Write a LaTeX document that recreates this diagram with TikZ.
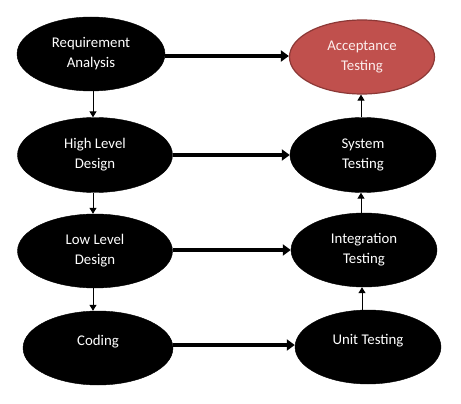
\documentclass[tikz,border=0pt]{standalone}
\usepackage{fontspec}
\setmainfont{Carlito}
\usetikzlibrary{shapes.geometric,arrows.meta}
\definecolor{accred}{HTML}{C0504D}
\definecolor{accborder}{HTML}{8C3836}
\definecolor{acctext}{HTML}{FCEDEC}
\begin{document}
\begin{tikzpicture}[x=1pt,y=-1pt,
  phase/.style={ellipse,fill=black,draw=black,text=white,inner sep=0pt,
    minimum width=148pt,minimum height=74pt,align=center,
    font=\fontsize{14.8}{20}\selectfont},
  accept/.style={phase,fill=accred,draw=accborder,line width=1.2pt,text=acctext},
  bigarrow/.style={line width=4pt,-{Triangle[length=8pt,width=11pt]}},
  smallarrow/.style={line width=1pt,-{Triangle[length=6pt,width=7pt]}}]
\useasboundingbox[fill=white] (0,0) rectangle (461,404);
\node[phase,minimum width=148pt] (ra) at (91,54) {Requirement\\Analysis};
\node[phase,minimum width=155pt,minimum height=75pt] (hld) at (95,155) {High Level\\Design};
\node[phase,minimum width=155pt] (lld) at (95,251) {Low Level\\Design};
\node[phase,minimum width=150pt] (cod) at (98,348) {Coding\\[-4pt]\mbox{}};
\node[accept,minimum width=145pt] (acc) at (362,57) {Acceptance\\Testing};
\node[phase,minimum width=146pt,minimum height=75pt] (sys) at (363,155) {System\\Testing};
\node[phase,minimum width=146pt] (int) at (364,250) {Integration\\Testing};
\node[phase,minimum width=146pt,minimum height=74pt] (unit) at (368,347) {Unit Testing\\[-4pt]\mbox{}};
\draw[bigarrow] (ra.east |- 0,56) -- (acc.west |- 0,56);
\draw[bigarrow] (hld.east |- 0,155) -- (sys.west |- 0,155);
\draw[bigarrow] (lld.east |- 0,250) -- (int.west |- 0,250);
\draw[bigarrow] (cod.east |- 0,345) -- (unit.west |- 0,345);
\draw[smallarrow] (ra.south -| 93,0) -- (hld.north -| 93,0);
\draw[smallarrow] (hld.south -| 93,0) -- (lld.north -| 93,0);
\draw[smallarrow] (lld.south -| 93,0) -- (cod.north -| 93,0);
\draw[smallarrow] (sys.north -| 361,0) -- (acc.south -| 361,0);
\draw[smallarrow] (int.north -| 361,0) -- (sys.south -| 361,0);
\draw[smallarrow] (unit.north -| 362,0) -- (int.south -| 362,0);
\end{tikzpicture}
\end{document}
